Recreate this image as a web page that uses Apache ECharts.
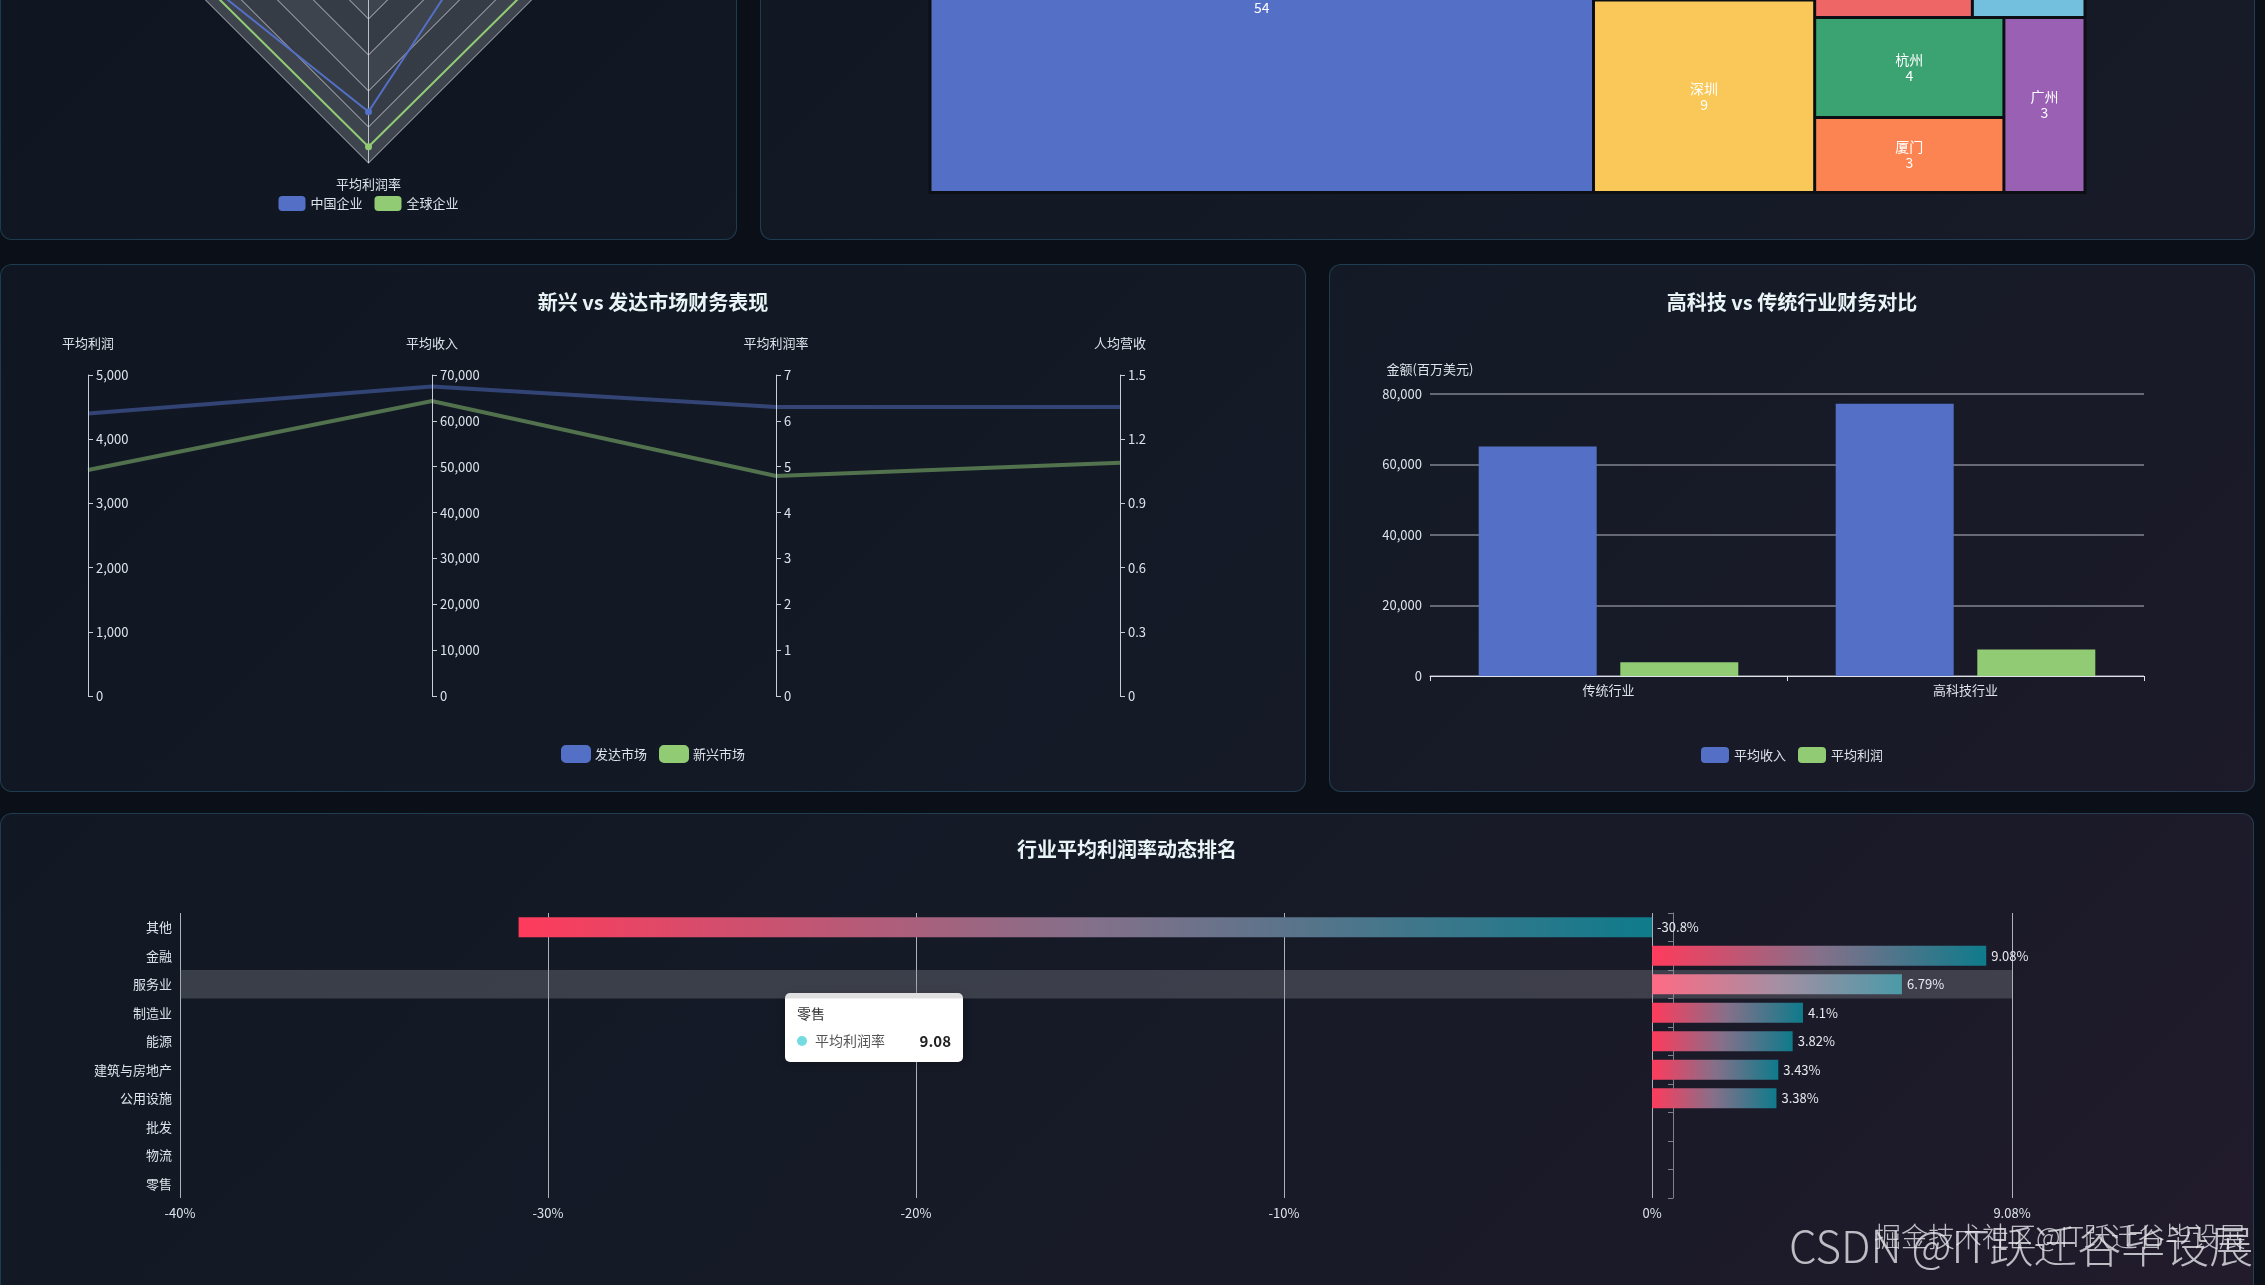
<!DOCTYPE html>
<html>
<head>
<meta charset="utf-8">
<script src="https://cdn.jsdelivr.net/npm/echarts@6/dist/echarts.min.js"></script>
<style>
html,body{margin:0;padding:0;width:2265px;height:1285px;overflow:hidden;background:#0b1018;font-family:'Noto Sans CJK SC','Noto Sans',sans-serif;}
.panel{position:absolute;box-sizing:border-box;border:1px solid rgba(58,130,160,0.35);border-radius:12px;
 background:linear-gradient(135deg,#0f1622 0%,#131a26 45%,#1a1a28 78%,#221b2c 100%) fixed;overflow:hidden;}
.chart{position:absolute;left:0;top:0;width:100%;height:100%;}
.wm{position:absolute;white-space:nowrap;color:rgba(235,235,240,0.78);font-family:'Noto Sans CJK SC',sans-serif;font-weight:300;}
</style>
</head>
<body>
<div class="panel" style="left:0;top:-400px;width:737px;height:640px;"><div id="radar" class="chart"></div></div>
<div class="panel" style="left:760px;top:-400px;width:1495px;height:640px;"><div id="treemap" class="chart"></div></div>
<div class="panel" style="left:0;top:264px;width:1306px;height:528px;"><div id="parallel" class="chart"></div></div>
<div class="panel" style="left:1329px;top:264px;width:926px;height:528px;"><div id="bar" class="chart"></div></div>
<div class="panel" style="left:0;top:813px;width:2254px;height:520px;"><div id="rank" class="chart"></div></div>
<div class="wm" style="left:1789px;top:1212px;font-size:44px;">CSDN @IT跃迁谷毕设展</div>
<div class="wm" style="left:1874px;top:1216px;font-size:27px;">掘金技术社区@IT跃迁谷毕设展</div>
<script>
// ---------- data ----------
const FONT = "'Noto Sans CJK SC','Noto Sans',sans-serif";
const palette = ['#5470c6', '#91cc75', '#fac858', '#ee6666', '#73c0de', '#3ba272', '#fc8452', '#9a60b4', '#ea7ccc'];

// radar (top-left, partly scrolled out)
const radarIndicators = ['平均收入', '平均利润', '平均利润率', '人均营收'];
const radarMax = [100, 100, 100, 100];
const radarLegend = ['中国企业', '全球企业'];
const radarChina = [82, 90, 71.5, 47];
const radarGlobal = [93, 92, 91, 92];

// treemap (top-right, partly scrolled out)
const cityNames = ['北京', '深圳', '上海', '香港', '台北', '杭州', '广州', '厦门'];
const cityCounts = [54, 9, 9, 7, 5, 4, 3, 3];

// parallel
const parallelTitle = '新兴 vs 发达市场财务表现';
const parallelDims = ['平均利润', '平均收入', '平均利润率', '人均营收'];
const parallelMax = [5000, 70000, 7, 1.5];
const parallelInterval = [1000, 10000, 1, 0.3];
const marketNames = ['发达市场', '新兴市场'];
const developedMarket = [4400, 67500, 6.3, 1.35];
const emergingMarket = [3520, 64300, 4.8, 1.09];

// bar
const barTitle = '高科技 vs 传统行业财务对比';
const barYName = '金额(百万美元)';
const industryTypes = ['传统行业', '高科技行业'];
const barSeriesNames = ['平均收入', '平均利润'];
const avgRevenue = [65100, 77200];
const avgProfit = [3900, 7500];

// ranking
const rankTitle = '行业平均利润率动态排名';
const rankCategories = ['其他', '金融', '服务业', '制造业', '能源', '建筑与房地产', '公用设施', '批发', '物流', '零售'];
const rankValues = [-30.8, 9.08, 6.79, 4.1, 3.82, 3.43, 3.38, null, null, null];
const rankXMin = -40, rankXMax = 9.78, rankXInterval = 10;
const rankMaxLabel = '9.08%';
const rankHover = '服务业';
const tipTitle = '零售', tipSeries = '平均利润率', tipValue = '9.08';

// ---------- common styles ----------
const txt = '#dde3ea';
const legendBase = {icon: 'roundRect', itemWidth: 28, itemHeight: 16, itemGap: 12,
  textStyle: {color: txt, fontSize: 13, fontFamily: FONT}};
const titleStyle = {color: '#e8f4f6', fontSize: 20, fontWeight: 'bold', fontFamily: FONT};

// ---------- radar ----------
const radarChart = echarts.init(document.getElementById('radar'));
radarChart.setOption({
  animation: false, color: palette,
  textStyle: {fontFamily: FONT},
  legend: Object.assign({}, legendBase, {data: radarLegend, left: 'center', top: 590, itemWidth: 27, itemHeight: 15}),
  radar: {
    center: ['50%', 382], radius: 180, shape: 'polygon', splitNumber: 5, startAngle: 90,
    indicator: radarIndicators.map((n, i) => ({name: n, max: radarMax[i]})),
    axisName: {color: txt, fontSize: 13, fontFamily: FONT},
    axisLine: {lineStyle: {color: 'rgba(235,235,240,0.75)'}},
    splitLine: {lineStyle: {color: 'rgba(235,235,240,0.75)'}},
    splitArea: {show: true, areaStyle: {color: ['rgba(250,250,250,0.2)', 'rgba(210,210,210,0.2)']}}
  },
  series: [{
    type: 'radar', symbol: 'circle', symbolSize: 7,
    data: [
      {name: radarLegend[0], value: radarChina, itemStyle: {color: palette[0]}, lineStyle: {color: palette[0], width: 2}},
      {name: radarLegend[1], value: radarGlobal, itemStyle: {color: palette[1]}, lineStyle: {color: palette[1], width: 2}}
    ]
  }]
});

// ---------- treemap ----------
const treemapChart = echarts.init(document.getElementById('treemap'));
treemapChart.setOption({
  animation: false, color: palette,
  textStyle: {fontFamily: FONT},
  series: [{
    type: 'treemap', roam: false, nodeClick: false,
    left: 'center', top: 205, width: 1158, height: 388,
    breadcrumb: {show: false},
    color: palette,
    levels: [{color: palette, itemStyle: {borderColor: '#0c0f14', borderWidth: 1.5, gapWidth: 0}}],
    itemStyle: {borderColor: '#0c0f14', borderWidth: 1.5, gapWidth: 0},
    label: {show: true, position: 'inside', formatter: '{b}\n{c}', color: '#fff', fontSize: 14, lineHeight: 16, fontFamily: FONT},
    data: cityNames.map((n, i) => ({name: n, value: cityCounts[i]}))
  }]
});

// ---------- parallel ----------
const parallelChart = echarts.init(document.getElementById('parallel'));
parallelChart.setOption({
  animation: false, color: palette,
  textStyle: {fontFamily: FONT},
  title: {text: parallelTitle, left: 'center', top: 22, textStyle: titleStyle},
  legend: Object.assign({}, legendBase, {data: marketNames, left: 'center', top: 475,
    itemStyle: {opacity: 1}}),
  parallel: {left: 87, right: 185, top: 110, bottom: 95,
    parallelAxisDefault: {
      nameLocation: 'end', nameGap: 25,
      nameTextStyle: {color: txt, fontSize: 13, fontFamily: FONT},
      axisLine: {lineStyle: {color: '#c9ced6', width: 1}},
      axisTick: {lineStyle: {color: '#c9ced6'}, length: 5},
      axisLabel: {color: txt, fontSize: 13, fontFamily: FONT},
      splitLine: {show: false}
    }
  },
  parallelAxis: parallelDims.map((n, i) => ({dim: i, name: n, type: 'value', min: 0, max: parallelMax[i], interval: parallelInterval[i]})),
  series: [
    {name: marketNames[0], type: 'parallel', color: palette[0], lineStyle: {color: palette[0], width: 4, opacity: 0.5}, data: [developedMarket]},
    {name: marketNames[1], type: 'parallel', color: palette[1], lineStyle: {color: palette[1], width: 4, opacity: 0.5}, data: [emergingMarket]}
  ]
});

// ---------- bar ----------
const barChart = echarts.init(document.getElementById('bar'));
barChart.setOption({
  animation: false, color: palette,
  textStyle: {fontFamily: FONT},
  title: {text: barTitle, left: 'center', top: 22, textStyle: titleStyle},
  legend: Object.assign({}, legendBase, {data: barSeriesNames, left: 'center', top: 477}),
  grid: {left: 100, right: 110, top: 129, bottom: 115, containLabel: false},
  xAxis: {type: 'category', data: industryTypes,
    axisLine: {lineStyle: {color: '#e0e4ea'}}, axisTick: {show: true, length: 5, lineStyle: {color: '#e0e4ea'}},
    axisLabel: {color: txt, fontSize: 13, margin: 8}},
  yAxis: {type: 'value', min: 0, max: 80000, interval: 20000, name: barYName, nameGap: 18,
    nameTextStyle: {color: txt, fontSize: 13, align: 'center'},
    axisLine: {show: false}, axisTick: {show: false},
    axisLabel: {color: txt, fontSize: 13},
    splitLine: {lineStyle: {color: 'rgba(200,204,214,0.6)', width: 1.5}}},
  series: [
    {name: barSeriesNames[0], type: 'bar', barWidth: 118, barGap: '20%', itemStyle: {color: palette[0]}, data: avgRevenue},
    {name: barSeriesNames[1], type: 'bar', barWidth: 118, barGap: '20%', itemStyle: {color: palette[1]}, data: avgProfit}
  ]
});

// ---------- ranking ----------
const rankChart = echarts.init(document.getElementById('rank'));
const grad = (a, b, c) => ({type: 'linear', x: 0, y: 0, x2: 1, y2: 0,
  colorStops: [{offset: 0, color: a}, {offset: 0.5, color: b}, {offset: 1, color: c}]});
const normalGrad = grad('#ff3b5c', '#85708a', '#0e7b8b');
const hoverGrad = grad('#ff6a84', '#a68fa3', '#4b9aa8');
const gridRank = {left: 179, width: 1832, top: 99, height: 285};
rankChart.setOption({
  animation: false, color: palette,
  textStyle: {fontFamily: FONT},
  title: {text: rankTitle, left: 'center', top: 20, textStyle: titleStyle},
  grid: Object.assign({containLabel: false}, gridRank),
  xAxis: {type: 'value', min: rankXMin, max: rankXMax, interval: rankXInterval,
    axisLine: {show: false}, axisTick: {show: false},
    axisLabel: {color: txt, fontSize: 13, margin: 9,
      formatter: v => (v >= rankXMax - 1e-6 ? rankMaxLabel : v + '%')},
    splitLine: {show: true, lineStyle: {color: 'rgba(225,228,235,0.75)', width: 1}}},
  yAxis: [
    {type: 'category', data: rankCategories, inverse: true,
      axisLine: {show: false}, axisTick: {show: false},
      axisLabel: {color: txt, fontSize: 13, margin: 8}},
    {type: 'category', data: rankCategories, inverse: true, position: 'left', offset: -1493,
      axisLine: {show: true, onZero: false, lineStyle: {color: '#7c818c'}},
      axisTick: {show: true, length: 5, lineStyle: {color: '#7c818c'}},
      axisLabel: {show: false}}
  ],
  series: [{
    type: 'bar', yAxisIndex: 0, barWidth: 20, z: 3,
    data: rankValues.map((v, i) => v === null ? '-' :
      {value: v, itemStyle: {color: rankCategories[i] === rankHover ? hoverGrad : normalGrad}}),
    label: {show: true, position: 'right', color: '#e6e9ee', fontSize: 13, formatter: p => p.value + '%'}
  }]
});
const hy = rankChart.convertToPixel({yAxisIndex: 0}, rankHover);
const bandH = gridRank.height / rankCategories.length;
rankChart.setOption({
  graphic: [
    {type: 'rect', z: 1, shape: {x: gridRank.left, y: hy - bandH / 2, width: gridRank.width, height: bandH},
      style: {fill: 'rgba(150,150,160,0.3)'}},
    {type: 'group', left: 784, top: 179, z: 100, children: [
      {type: 'rect', shape: {x: 0, y: 0, width: 178, height: 69, r: 5},
        style: {fill: '#ffffff', shadowBlur: 10, shadowColor: 'rgba(0,0,0,0.3)'}},
      {type: 'text', x: 12, y: 21, style: {text: tipTitle, fill: '#333', font: '14px ' + FONT, verticalAlign: 'middle'}},
      {type: 'circle', shape: {cx: 17, cy: 48, r: 5}, style: {fill: '#74dbe0'}},
      {type: 'text', x: 30, y: 48, style: {text: tipSeries, fill: '#555', font: '14px ' + FONT, verticalAlign: 'middle'}},
      {type: 'text', x: 166, y: 48, style: {text: tipValue, fill: '#222', font: 'bold 15px ' + FONT, align: 'right', verticalAlign: 'middle'}}
    ]}
  ]
});
</script>
</body>
</html>
